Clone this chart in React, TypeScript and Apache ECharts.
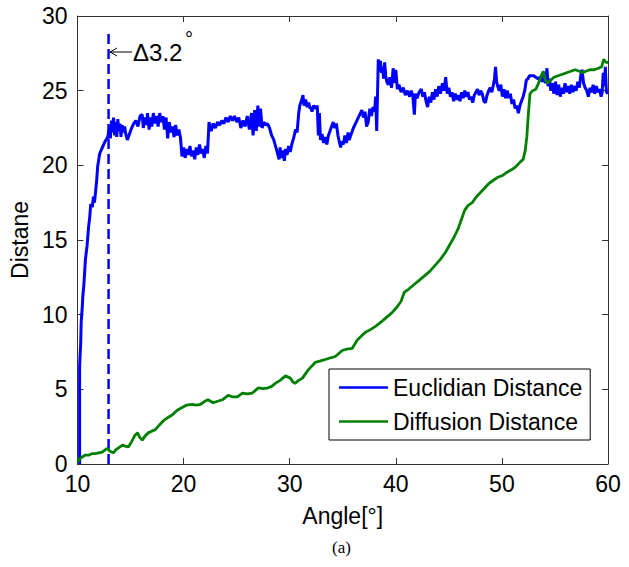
import React, { useEffect, useRef } from "react";
import * as echarts from "echarts";

const xTickValues = [10, 20, 30, 40, 50, 60];
const yTickValues = [0, 5, 10, 15, 20, 25, 30];
const seriesNames = ["Euclidian Distance", "Diffusion Distance"];
const markerAngle = 12.93;
const markerTop = 29.1;
const annotationText = "Δ3.2";

// Euclidian distance vs angle [angle, distance]
const euclidean: [number, number][] = [
  [10.2, 0], [10.2, 6.5], [10.25, 7.4], [10.3, 8.0], [10.35, 9.5], [10.45, 10.5], [10.5, 11.2],
  [10.6, 12.0], [10.75, 13.7], [10.9, 14.6], [11.05, 15.9], [11.15, 16.5], [11.25, 17.4],
  [11.4, 17.2], [11.5, 17.9], [11.6, 17.5], [11.7, 18.2], [11.8, 18.9], [11.9, 19.9],
  [12.05, 20.6], [12.1, 20.8], [12.35, 21.2], [12.6, 21.6], [12.85, 21.9], [13.0, 22.5],
  [13.1, 21.8], [13.2, 23.0], [13.3, 22.2], [13.4, 23.2], [13.5, 22.0], [13.6, 22.9],
  [13.7, 21.9], [13.8, 23.1], [13.9, 22.3], [14.0, 22.8], [14.1, 21.9], [14.2, 22.7],
  [14.3, 22.2], [14.45, 22.6], [14.55, 22.1], [14.7, 21.7], [14.9, 22.1], [15.1, 22.5],
  [15.3, 22.8], [15.5, 23.0], [15.7, 22.6], [15.9, 23.3], [16.1, 23.4], [16.2, 22.5],
  [16.35, 23.2], [16.5, 22.7], [16.6, 23.5], [16.75, 22.4], [16.9, 23.2], [17.0, 22.6],
  [17.15, 23.5], [17.3, 22.8], [17.45, 23.3], [17.6, 22.6], [17.75, 23.5], [17.9, 22.9],
  [18.05, 23.3], [18.2, 22.4], [18.35, 23.2], [18.5, 21.8], [18.65, 22.9], [18.8, 22.2],
  [18.95, 22.6], [19.1, 21.9], [19.25, 22.7], [19.4, 22.0], [19.55, 22.4], [19.7, 21.9],
  [19.85, 20.6], [20.0, 21.2], [20.15, 20.5], [20.3, 21.1], [20.45, 20.7], [20.6, 21.3],
  [20.75, 20.6], [20.9, 21.0], [21.05, 20.4], [21.2, 21.2], [21.35, 20.7], [21.5, 21.4],
  [21.65, 20.8], [21.8, 21.1], [21.95, 20.5], [22.1, 21.3], [22.25, 20.8], [22.4, 22.9],
  [22.6, 22.3], [22.8, 22.8], [23.0, 22.5], [23.2, 22.9], [23.4, 22.7], [23.6, 23.0],
  [23.8, 22.8], [24.0, 23.2], [24.2, 22.9], [24.4, 23.3], [24.6, 23.0], [24.8, 23.3],
  [25.0, 22.9], [25.2, 23.2], [25.4, 22.5], [25.6, 23.0], [25.8, 22.6], [26.0, 23.3],
  [26.2, 22.4], [26.4, 23.5], [26.55, 22.0], [26.7, 23.7], [26.85, 22.3], [27.0, 24.0],
  [27.1, 22.6], [27.25, 23.8], [27.4, 22.5], [27.55, 22.9], [27.7, 22.7], [27.9, 22.8],
  [28.1, 22.5], [28.3, 22.0], [28.5, 21.7], [28.7, 21.2], [28.85, 20.8], [29.0, 20.4],
  [29.1, 21.2], [29.2, 20.5], [29.35, 21.0], [29.5, 20.3], [29.6, 21.1], [29.75, 20.7],
  [29.9, 21.3], [30.05, 20.9], [30.2, 21.4], [30.4, 21.9], [30.55, 22.4], [30.7, 22.2],
  [30.85, 23.5], [30.95, 24.0], [31.1, 24.3], [31.25, 24.7], [31.35, 24.0], [31.5, 24.4],
  [31.65, 23.9], [31.8, 24.2], [31.9, 23.8], [32.0, 23.9], [32.1, 23.6], [32.25, 24.0],
  [32.45, 23.8], [32.6, 24.0], [32.7, 22.0], [32.8, 23.5], [32.9, 21.7], [33.05, 22.1],
  [33.2, 21.5], [33.35, 21.9], [33.5, 21.4], [33.65, 22.0], [33.8, 22.3], [33.95, 22.6],
  [34.1, 22.9], [34.25, 22.5], [34.4, 22.8], [34.55, 22.0], [34.7, 21.5], [34.8, 21.2],
  [34.9, 21.6], [35.05, 21.4], [35.2, 22.0], [35.35, 21.5], [35.5, 22.2], [35.6, 21.7],
  [35.8, 22.1], [36.0, 22.5], [36.2, 22.8], [36.4, 23.1], [36.6, 23.4], [36.8, 23.7],
  [36.95, 23.2], [37.1, 23.6], [37.25, 22.6], [37.4, 22.9], [37.55, 23.8], [37.7, 23.3],
  [37.85, 23.9], [38.0, 23.6], [38.1, 24.6], [38.2, 22.3], [38.3, 25.5], [38.35, 27.1],
  [38.45, 26.3], [38.55, 27.0], [38.65, 26.2], [38.75, 26.6], [38.85, 25.8], [38.95, 26.9],
  [39.05, 26.0], [39.15, 25.6], [39.3, 25.4], [39.45, 25.9], [39.6, 25.2], [39.75, 26.5],
  [39.9, 25.5], [40.0, 26.4], [40.15, 25.1], [40.3, 25.4], [40.5, 24.9], [40.7, 25.2],
  [40.9, 24.7], [41.1, 25.0], [41.3, 24.6], [41.45, 25.0], [41.6, 24.7], [41.75, 23.4],
  [41.85, 24.8], [42.0, 24.5], [42.2, 24.9], [42.4, 25.1], [42.55, 24.6], [42.7, 24.9],
  [42.85, 24.3], [43.0, 23.9], [43.15, 24.6], [43.3, 24.2], [43.45, 24.9], [43.6, 24.4],
  [43.75, 25.1], [43.9, 24.6], [44.05, 25.3], [44.2, 24.8], [44.4, 25.5], [44.55, 25.0],
  [44.7, 25.9], [44.85, 24.8], [45.0, 25.2], [45.15, 24.6], [45.3, 24.9], [45.45, 24.3],
  [45.6, 24.8], [45.75, 24.4], [45.9, 24.7], [46.05, 24.3], [46.2, 24.9], [46.35, 24.5],
  [46.5, 25.0], [46.65, 24.6], [46.8, 24.9], [46.95, 24.4], [47.1, 24.6], [47.25, 24.2],
  [47.4, 24.7], [47.55, 24.9], [47.7, 25.1], [47.85, 24.7], [48.0, 25.0], [48.15, 24.8],
  [48.3, 24.3], [48.45, 24.2], [48.6, 24.7], [48.75, 25.0], [48.9, 25.2], [49.05, 24.9],
  [49.2, 25.4], [49.3, 25.8], [49.4, 26.6], [49.5, 25.6], [49.6, 25.3], [49.75, 25.0],
  [49.9, 25.4], [50.05, 24.6], [50.2, 25.1], [50.35, 24.5], [50.5, 25.0], [50.65, 24.5],
  [50.8, 24.8], [50.95, 24.1], [51.1, 24.4], [51.25, 23.8], [51.4, 24.0], [51.55, 23.5],
  [51.7, 24.0], [51.85, 24.3], [52.0, 24.6], [52.15, 25.0], [52.3, 25.7], [52.45, 25.8],
  [52.6, 26.0], [52.8, 26.0], [53.0, 26.0], [53.2, 25.9], [53.4, 25.8], [53.6, 25.9],
  [53.8, 25.6], [53.95, 26.2], [54.1, 25.5], [54.25, 26.5], [54.35, 25.3], [54.5, 25.8],
  [54.6, 25.0], [54.75, 25.5], [54.9, 24.8], [55.05, 25.6], [55.2, 24.7], [55.35, 25.4],
  [55.5, 24.6], [55.65, 25.2], [55.8, 24.8], [55.95, 25.5], [56.1, 24.9], [56.25, 25.3],
  [56.4, 24.8], [56.55, 25.4], [56.7, 24.9], [56.85, 25.3], [57.0, 25.0], [57.15, 25.6],
  [57.3, 25.2], [57.45, 26.1], [57.55, 26.4], [57.7, 25.5], [57.85, 25.2], [58.0, 25.0],
  [58.15, 24.6], [58.3, 25.2], [58.45, 24.9], [58.6, 25.4], [58.75, 24.8], [58.9, 25.3],
  [59.05, 24.9], [59.2, 25.1], [59.35, 24.6], [59.45, 24.9], [59.55, 26.2], [59.65, 25.3],
  [59.75, 26.6], [59.85, 24.9], [60.0, 24.8],
];

// Diffusion distance vs angle [angle, distance]
const diffusion: [number, number][] = [
  [10.05, 0.1], [10.1, 0.3], [10.4, 0.45], [10.75, 0.6], [11.1, 0.6], [11.4, 0.7], [11.7, 0.7],
  [12.0, 0.75], [12.35, 0.8], [12.6, 0.95], [12.82, 1.05], [13.0, 0.9], [13.2, 0.8],
  [13.39, 0.75], [13.6, 0.95], [13.9, 1.1], [14.24, 1.27], [14.5, 1.2], [14.8, 1.14],
  [15.1, 1.5], [15.4, 1.9], [15.65, 2.1], [15.85, 1.8], [16.1, 1.6], [16.4, 1.9], [16.7, 2.1],
  [17.0, 2.2], [17.34, 2.3], [17.7, 2.6], [18.1, 2.9], [18.5, 3.1], [18.95, 3.3], [19.4, 3.6],
  [19.9, 3.8], [20.3, 3.95], [20.8, 4.0], [21.2, 3.95], [21.6, 4.0], [22.0, 4.2], [22.3, 4.3],
  [22.8, 4.1], [23.2, 4.2], [23.65, 4.3], [24.2, 4.6], [24.6, 4.5], [25.07, 4.5], [25.54, 4.75],
  [26.0, 4.7], [26.48, 4.75], [27.04, 5.1], [27.5, 5.05], [27.98, 5.1], [28.3, 5.2],
  [28.64, 5.4], [29.1, 5.6], [29.6, 5.9], [30.06, 5.75], [30.3, 5.5], [30.5, 5.4], [30.85, 5.6],
  [31.2, 5.75], [31.75, 6.3], [32.4, 6.8], [32.9, 6.9], [33.35, 7.0], [33.8, 7.1], [34.3, 7.2],
  [34.95, 7.6], [35.4, 7.7], [35.9, 7.75], [36.37, 8.3], [37.1, 8.8], [37.6, 9.0], [38.06, 9.2],
  [38.6, 9.5], [39.1, 9.8], [39.6, 10.1], [40.1, 10.5], [40.5, 10.9], [40.8, 11.5], [41.2, 11.7],
  [41.7, 12.0], [42.2, 12.3], [42.7, 12.6], [43.2, 12.9], [43.7, 13.3], [44.2, 13.7],
  [44.7, 14.2], [45.1, 14.7], [45.5, 15.2], [45.9, 15.8], [46.2, 16.4], [46.5, 17.0],
  [46.8, 17.3], [47.2, 17.5], [47.6, 17.9], [48.0, 18.2], [48.4, 18.5], [48.8, 18.8],
  [49.2, 19.0], [49.6, 19.2], [50.0, 19.3], [50.4, 19.5], [50.9, 19.7], [51.3, 19.9],
  [51.7, 20.2], [52.0, 20.4], [52.2, 21.0], [52.35, 21.9], [52.5, 23.5], [52.65, 24.8],
  [52.9, 25.0], [53.2, 25.1], [53.4, 25.4], [53.7, 26.0], [53.9, 26.3], [54.1, 25.7],
  [54.3, 25.5], [54.6, 25.7], [54.9, 25.9], [55.3, 26.0], [55.7, 26.1], [56.1, 26.2],
  [56.5, 26.3], [56.9, 26.4], [57.3, 26.3], [57.6, 26.2], [57.9, 26.3], [58.3, 26.4],
  [58.7, 26.4], [59.1, 26.5], [59.4, 26.6], [59.6, 27.1], [59.8, 26.9], [60.0, 26.9],
];

const FONT = "'Liberation Sans', Arial, sans-serif";
const AXIS_COLOR = "#333";

export default function App() {
  const ref = useRef<HTMLDivElement>(null);

  useEffect(() => {
    if (!ref.current) return;
    const chart = echarts.init(ref.current, undefined, { renderer: "svg" });
    const xMin = xTickValues[0];
    const xMax = xTickValues[xTickValues.length - 1];
    const xInt = xTickValues[1] - xTickValues[0];
    const yMin = yTickValues[0];
    const yMax = yTickValues[yTickValues.length - 1];
    const yInt = yTickValues[1] - yTickValues[0];

    const baseAxis = {
      type: "value",
      splitLine: { show: false },
      axisLine: { show: true, onZero: false, lineStyle: { color: AXIS_COLOR, width: 1 } },
      axisTick: { show: true, inside: true, length: 6, lineStyle: { color: AXIS_COLOR, width: 1 } },
    };

    const option: any = {
      animation: false,
      backgroundColor: "#ffffff",
      grid: { left: 77, right: 21, top: 16, bottom: 103, containLabel: false },
      xAxis: [
        {
          ...baseAxis,
          min: xMin, max: xMax, interval: xInt,
          position: "bottom",
          name: "Angle[°]",
          nameLocation: "middle",
          nameGap: 40,
          nameTextStyle: { fontSize: 23, color: "#000", fontFamily: FONT },
          axisLabel: { fontSize: 23, color: "#000", fontFamily: FONT, margin: 8 },
        },
        {
          ...baseAxis,
          min: xMin, max: xMax, interval: xInt,
          position: "top",
          axisLabel: { show: false },
        },
      ],
      yAxis: [
        {
          ...baseAxis,
          min: yMin, max: yMax, interval: yInt,
          position: "left",
          name: "Distane",
          nameLocation: "middle",
          nameGap: 38,
          nameTextStyle: { fontSize: 23, color: "#000", fontFamily: FONT },
          axisLabel: { fontSize: 23, color: "#000", fontFamily: FONT, margin: 10 },
        },
        {
          ...baseAxis,
          min: yMin, max: yMax, interval: yInt,
          position: "right",
          axisLabel: { show: false },
        },
      ],
      legend: {
        data: seriesNames.map((n) => ({ name: n, icon: "rect" })),
        orient: "vertical",
        left: 329,
        top: 369,
        padding: [7, 8, 7, 10],
        itemGap: 11,
        itemWidth: 49,
        itemHeight: 2.5,
        backgroundColor: "#fff",
        borderColor: "#000",
        borderWidth: 1,
        borderRadius: 0,
        textStyle: { fontSize: 23, lineHeight: 23, color: "#000", fontFamily: FONT },
      },
      series: [
        {
          name: seriesNames[0],
          type: "line",
          data: euclidean,
          symbol: "none",
          lineStyle: { color: "#0000ff", width: 3 },
          itemStyle: { color: "#0000ff" },
          z: 3,
        },
        {
          name: seriesNames[1],
          type: "line",
          data: diffusion,
          symbol: "none",
          lineStyle: { color: "#008000", width: 2.8 },
          itemStyle: { color: "#008000" },
          z: 4,
        },
        {
          name: "marker",
          type: "line",
          data: [[markerAngle, 0], [markerAngle, markerTop]],
          symbol: "none",
          lineStyle: { color: "#0000ff", width: 2.5, type: [10, 5] },
          z: 2,
        },
      ],
      graphic: [
        {
          type: "line",
          shape: { x1: 110, y1: 52, x2: 132, y2: 52 },
          style: { stroke: "#000", lineWidth: 1 },
        },
        {
          type: "polyline",
          shape: { points: [[117, 48], [110, 52], [117, 56]] },
          style: { stroke: "#000", lineWidth: 1, fill: "none" },
        },
        {
          type: "text",
          left: 133,
          top: 40,
          style: { text: annotationText, fontSize: 24, fill: "#000", fontFamily: FONT },
        },
        {
          type: "text",
          left: 185,
          top: 29,
          style: { text: "°", fontSize: 20, fill: "#000", fontFamily: FONT },
        },
        {
          type: "text",
          left: 332,
          top: 539,
          style: { text: "(a)", fontSize: 17, fill: "#000", fontFamily: "'Liberation Serif', 'Times New Roman', serif" },
        },
      ],
    };
    chart.setOption(option);
    return () => chart.dispose();
  }, []);

  return (
    <div
      ref={ref}
      style={{ position: "absolute", left: 0, top: 0, width: 629, height: 567 }}
    />
  );
}
